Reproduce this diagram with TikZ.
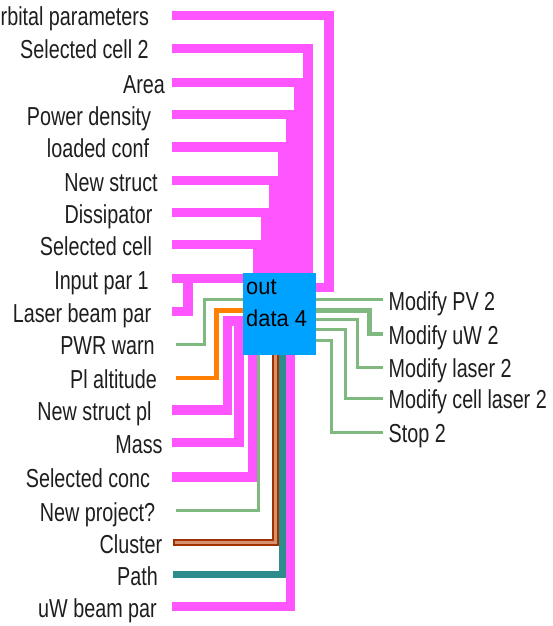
\documentclass[tikz,border=0pt]{standalone}
\usepackage{fontspec}
\setmainfont{Liberation Sans}
\newfontfamily\lblfont{Liberation Sans}[FakeStretch=0.76]
\newfontfamily\boxfont{Liberation Sans}[FakeStretch=0.95]
\definecolor{wpink}{RGB}{255,85,255}
\definecolor{wgreen}{RGB}{127,185,127}
\definecolor{worange}{RGB}{255,128,0}
\definecolor{wteal}{RGB}{46,140,140}
\definecolor{wbrown}{RGB}{160,50,0}
\definecolor{wbrownin}{RGB}{215,145,110}
\definecolor{boxblue}{RGB}{0,162,255}
\definecolor{txtc}{RGB}{30,30,30}
\pgfdeclarelayer{bg}
\pgfsetlayers{bg,main}
\begin{document}
\begin{tikzpicture}[x=1pt,y=-1pt,
  lbl/.style={font=\lblfont\fontsize{26}{30}\selectfont, text=txtc, inner sep=0pt, text height=23pt, text depth=2pt},
  rlbl/.style={lbl, anchor=west, inner xsep=5.5pt},
  pinkw/.style={draw=wpink, line width=9.5pt},
  greenw/.style={draw=wgreen, line width=3pt},
  greenthick/.style={draw=wgreen, line width=4.5pt},
  orangew/.style={draw=worange, line width=4.5pt},
  tealw/.style={draw=wteal, line width=7pt},
  brownw/.style={draw=wbrown, line width=7.5pt},
  brownin/.style={draw=wbrownin, line width=3pt},
  vibox/.style={fill=boxblue, minimum width=73pt, minimum height=82pt, inner sep=0pt},
  boxtxt/.style={font=\boxfont\fontsize{23}{26}\selectfont, text=black, inner sep=0pt, anchor=base west}
]
\useasboundingbox (0,0) rectangle (552,626);

% left labels
\node[lbl, anchor=west] (l1) at (0.5,15.5) {rbital parameters};
\node[lbl] (l2) at (84.5,48.5) {Selected cell 2};
\node[lbl] (l3) at (144,82.5) {Area};
\node[lbl] (l4) at (89,114.5) {Power density};
\node[lbl] (l5) at (98,147) {loaded conf};
\node[lbl] (l6) at (111,180.5) {New struct};
\node[lbl] (l7) at (108.5,212.5) {Dissipator};
\node[lbl] (l8) at (96,244.5) {Selected cell};
\node[lbl] (l9) at (101.5,278.5) {Input par 1};
\node[lbl] (l10) at (82,311.5) {Laser beam par};
\node[lbl] (l11) at (107.5,344) {PWR warn};
\node[lbl] (l12) at (113.5,378) {Pl altitude};
\node[lbl] (l13) at (94.5,410) {New struct pl};
\node[lbl] (l14) at (139,442.5) {Mass};
\node[lbl] (l15) at (88,477) {Selected conc};
\node[lbl] (l16) at (97.5,510.5) {New project?};
\node[lbl] (l17) at (131,542.5) {Cluster};
\node[lbl] (l18) at (137.5,574.5) {Path};
\node[lbl] (l19) at (97.5,606.5) {uW beam par};

% right labels
\node[rlbl] (r1) at (383,299.5) {Modify PV 2};
\node[rlbl] (r2) at (383,334) {Modify uW 2};
\node[rlbl] (r3) at (383,367) {Modify laser 2};
\node[rlbl] (r4) at (383,398) {Modify cell laser 2};
\node[rlbl] (r5) at (383,432) {Stop 2};

% the sub-VI box
\node[vibox] (box) at (279.5,314) {};
\node[boxtxt] (boxt1) at (246,294) {out};
\node[boxtxt] (boxt2) at (246,326) {data 4};

\begin{pgfonlayer}{bg}
% upper pink wires
\draw[pinkw] (l1.east -| 172,0) -| (329,287.5) -- (box.east |- 0,287.5);
\draw[pinkw] (l2.east -| 172,0) -| (box.north -| 308,0);
\draw[pinkw] (l3.east -| 172,0) -| (box.north -| 299,0);
\draw[pinkw] (l4.east -| 172,0) -| (box.north -| 290.5,0);
\draw[pinkw] (l5.east -| 172,0) -| (box.north -| 282.5,0);
\draw[pinkw] (l6.east -| 172,0) -| (box.north -| 273.5,0);
\draw[pinkw] (l7.east -| 172,0) -| (box.north -| 265.5,0);
\draw[pinkw] (l8.east -| 172,0) -| (box.north -| 257.5,0);
\draw[pinkw] (l9.east -| 172,0) -- (l9.east -| box.west);
\draw[pinkw] (l10.east -| 172,0) -| (188,278.5) -- (box.west |- l9.east);
% left middle wires
\draw[greenw] (l11.east -| 176,0) -| (204,299.5) -- (box.west |- 0,299.5);
\draw[orangew] (l12.east -| 176,0) -| (216.5,310.5) -- (box.west |- 0,310.5);
\draw[pinkw] (l13.east -| 172,0) -| (227.5,321) -- (box.west |- 0,321);
\draw[pinkw] (l14.east -| 172,0) -| (239,321) -- (box.west |- 0,321);
% lower wires
\draw[pinkw] (l15.east -| 172,0) -| (box.south -| 252.5,0);
\draw[greenw] (l16.east -| 176,0) -| (box.south -| 258.5,0);
\draw[pinkw, line width=9pt] (l19.east -| 172,0) -| (box.south -| 290.75,0);
\draw[tealw] (l18.east -| 173,0) -| (box.south -| 282.5,0);
\draw[brownw] (l17.east -| 173,0) -| (box.south -| 275.5,0);
\draw[brownin] (l17.east -| 174.5,0) -| (box.south -| 275.5,0);
% right wires
\draw[greenw] (box.east |- r1.west) -- (r1.west);
\draw[greenthick] (box.east |- 0,310.5) -| (369.5,334) -- (r2.west);
\draw[greenw] (box.east |- 0,319.5) -| (357.5,367) -- (r3.west);
\draw[greenw] (box.east |- 0,329.5) -| (345.5,398) -- (r4.west);
\draw[greenw] (box.east |- 0,340.5) -| (331,432) -- (r5.west);
\end{pgfonlayer}
\end{tikzpicture}
\end{document}
